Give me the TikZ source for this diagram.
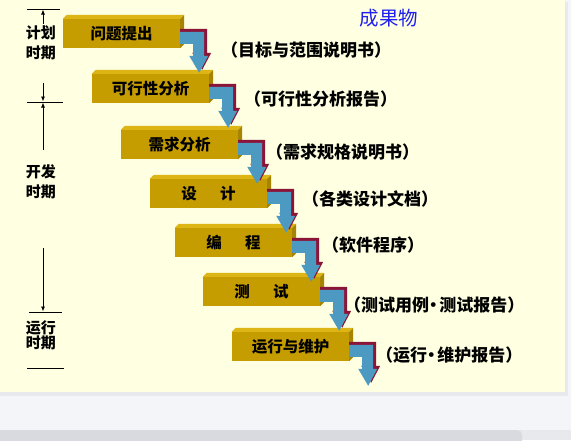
\documentclass[tikz,border=0pt]{standalone}
\usepackage{fontspec}
\newfontfamily\cjk{Noto Sans CJK SC}
\usetikzlibrary{arrows.meta,calc}
\definecolor{pagegrey}{HTML}{F4F5F8}
\definecolor{bargrey}{HTML}{D9DADF}
\definecolor{barlight}{HTML}{E8E9EC}
\definecolor{bgyellow}{HTML}{FFFFE1}
\definecolor{boxfront}{HTML}{C59D00}
\definecolor{boxtop}{HTML}{DDB514}
\definecolor{boxside}{HTML}{A68400}
\definecolor{arrowblue}{HTML}{4C9AC2}
\definecolor{arrowdark}{HTML}{8A1538}
\definecolor{titleblue}{HTML}{2020F0}
\newcommand{\middot}{\kern-0.25em·\kern-0.15em}
\tikzset{
  stepbox/.style={fill=boxfront, minimum width=117pt, minimum height=29pt, inner sep=0pt,
    font=\cjk\bfseries\fontsize{15.5}{15.5}\selectfont},
  result/.style={anchor=west, inner sep=0pt, font=\cjk\bfseries\fontsize{17}{17}\selectfont},
  period/.style={inner sep=0pt, align=center, font=\cjk\bfseries\fontsize{15}{20}\selectfont},
  tl/.style={line width=0.8pt},
  tlarrow/.style={line width=0.8pt, -{Latex[length=5pt,width=4pt]}}
}
\newcommand{\bevelbox}[1]{%
  \fill[boxtop] (#1.north west) -- ++(4,-4) -- ($(#1.north east)+(4,-4)$) -- (#1.north east) -- cycle;
  \fill[boxside] (#1.north east) -- ++(4,-4) -- ($(#1.south east)+(4,-4)$) -- (#1.south east) -- cycle;}
\newcommand{\stepflow}[1]{%
  \begin{scope}[shift={(#1.north east)}]
    \fill[arrowdark] (0,10) -- (27,10) -- (27,34) -- (31,34) -- (22,51) -- (12,34) -- (16,34) -- (16,22) -- (0,22) -- cycle;
    \fill[arrowblue] (0,13) -- (24,13) -- (24,37) -- (28,37) -- (19,54) -- (9,37) -- (13,37) -- (13,25) -- (0,25) -- cycle;
  \end{scope}}
\begin{document}
\begin{tikzpicture}[x=1pt,y=-1pt]
\useasboundingbox (0,0) rectangle (571,440);
\clip (0,0) rectangle (571,440);
\fill[pagegrey] (0,0) rectangle (571,440);
\fill[barlight] (0,430) rectangle (571,440);
\fill[bargrey, rounded corners=5pt] (-10,430) rectangle (522,450);
\fill[barlight] (565,2) rectangle (568,394);
\fill[barlight] (0,392) rectangle (568,396);
\fill[bgyellow] (0,0) rectangle (565,392);

% boxes
\node[stepbox] (b1) at (121.5,33.5) {问题提出};
\node[stepbox] (b2) at (150.5,88.5) {可行性分析};
\node[stepbox] (b3) at (179.5,144.5) {需求分析};
\node[stepbox] (b4) at (208.5,193.5) {设\hspace{1.5em}计};
\node[stepbox] (b5) at (233.5,242.5) {编\hspace{1.5em}程};
\node[stepbox] (b6) at (261.5,291.5) {测\hspace{1.5em}试};
\node[stepbox] (b7) at (290.5,346.5) {运行与维护};
\foreach \b in {b1,b2,b3,b4,b5,b6,b7} {\bevelbox{\b}}
\foreach \b in {b1,b2,b3,b4,b5,b6,b7} {\stepflow{\b}}

% results
\node[font=\cjk\fontsize{19.5}{19.5}\selectfont, text=titleblue, inner sep=0pt] (title) at (389,18) {成果物};
\node[result] (r1) at (221,50) {（目标与范围说明书）};
\node[result] (r2) at (244,99) {（可行性分析报告）};
\node[result] (r3) at (266,152) {（需求规格说明书）};
\node[result] (r4) at (302,199) {（各类设计文档）};
\node[result] (r5) at (322,245) {（软件程序）};
\node[result] (r6) at (344,305) {（测试用例\middot 测试报告）};
\node[result] (r7) at (376,355) {（运行\middot 维护报告）};

% timeline
\node[period] (p1) at (41,43) {计划\\时期};
\node[period] (p2) at (41,182) {开发\\时期};
\node[period, font=\cjk\bfseries\fontsize{15}{15}\selectfont] (p3) at (41,335) {运行\\时期};
\coordinate (l1a) at (27,9);   \coordinate (l1b) at (60,9);
\coordinate (l2a) at (27,102); \coordinate (l2b) at (63,102);
\coordinate (l3a) at (29,312); \coordinate (l3b) at (62,312);
\coordinate (l4a) at (27,368); \coordinate (l4b) at (64,368);
\coordinate (a1s) at (43,24);  \coordinate (a1e) at (43,9.5);
\coordinate (a2s) at (43,83);  \coordinate (a2e) at (43,101.5);
\coordinate (a3s) at (43,150); \coordinate (a3e) at (43,102.5);
\coordinate (a4s) at (43,248); \coordinate (a4e) at (43,311.5);
\draw[tl] (l1a) -- (l1b);
\draw[tl] (l2a) -- (l2b);
\draw[tl] (l3a) -- (l3b);
\draw[tl] (l4a) -- (l4b);
\draw[tlarrow] (a1s) -- (a1e);
\draw[tlarrow] (a2s) -- (a2e);
\draw[tlarrow] (a3s) -- (a3e);
\draw[tlarrow] (a4s) -- (a4e);
\end{tikzpicture}
\end{document}
